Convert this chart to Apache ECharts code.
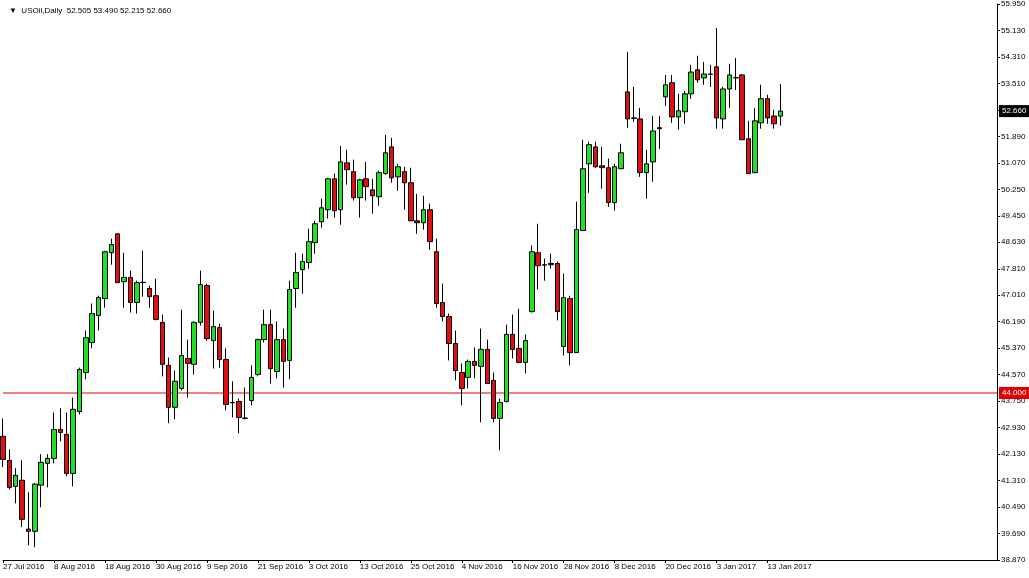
<!DOCTYPE html>
<html><head><meta charset="utf-8">
<script src="https://cdn.jsdelivr.net/npm/echarts@6/dist/echarts.min.js"></script>
<style>html,body{margin:0;padding:0;background:#fff}#c{width:1029px;height:578px}</style>
</head><body><div id="c"></div>
<script>
// OHLC as [open, close, low, high]
const ohlc = [
[42.67,41.96,41.72,43.22],[41.93,41.10,41.04,42.27],[41.13,41.47,40.61,41.69],[41.32,40.12,39.88,41.93],
[39.82,39.75,39.32,40.95],[39.75,41.20,39.26,41.23],[41.17,41.87,40.49,42.12],[41.84,41.99,41.10,42.12],
[41.99,42.88,41.84,43.40],[42.88,42.79,42.51,43.53],[42.73,41.53,41.44,43.40],[41.53,43.50,41.13,43.86],
[43.43,44.72,43.34,44.78],[44.63,45.70,44.42,45.92],[45.55,46.44,45.37,46.75],[46.38,46.93,45.92,46.99],
[46.90,48.34,46.62,48.37],[48.31,48.56,47.94,48.74],[48.89,47.39,47.39,48.89],[47.42,47.55,46.62,48.31],
[47.55,46.78,46.47,47.76],[46.78,47.39,46.44,47.45],[47.39,47.40,46.96,48.37],[47.21,46.96,46.62,47.30],
[46.99,46.26,46.23,47.51],[46.17,44.88,44.51,46.41],[44.85,43.56,43.07,45.09],[43.56,44.36,43.19,44.69],
[44.14,45.15,44.08,46.56],[45.06,44.91,43.86,45.64],[44.88,46.17,44.57,46.20],[46.17,47.33,46.07,47.76],
[47.30,45.67,45.61,47.36],[45.61,46.04,44.75,46.53],[46.01,45.03,44.78,46.13],[45.03,43.65,43.47,45.37],
[43.71,43.70,43.25,44.36],[43.74,43.25,42.76,43.83],[43.22,43.23,43.19,44.17],[43.77,44.48,43.62,44.85],
[44.57,45.64,44.51,45.67],[45.64,46.10,45.55,46.56],[46.10,44.75,44.29,46.56],[44.66,45.64,44.45,46.20],
[45.64,44.97,44.17,45.98],[45.00,47.18,44.42,47.45],[47.21,47.70,46.62,48.31],[47.79,48.04,47.05,48.28],
[48.01,48.65,47.82,49.05],[48.62,49.20,48.28,49.29],[49.26,49.69,49.08,49.97],[49.63,50.58,49.36,50.61],
[50.58,49.60,49.39,50.74],[49.63,51.10,49.17,51.59],[51.07,50.86,50.40,51.47],[50.80,50.00,49.91,51.17],
[50.00,50.55,49.39,50.58],[50.58,50.34,49.91,51.10],[50.24,50.06,49.51,50.58],[50.03,50.77,49.75,50.83],
[50.74,51.38,50.70,51.93],[51.56,50.61,50.46,51.84],[50.64,50.95,50.21,51.04],[50.80,50.46,49.63,50.95],
[50.46,49.29,49.29,50.92],[49.29,49.23,48.89,50.12],[49.23,49.63,49.02,50.06],[49.63,48.65,48.40,49.82],
[48.34,46.75,46.62,48.74],[46.78,46.35,46.20,47.36],[46.35,45.52,45.00,46.44],[45.52,44.69,44.39,45.92],
[44.63,44.14,43.62,44.91],[44.48,44.97,44.14,45.03],[44.97,44.85,44.45,45.40],[44.82,45.34,43.10,45.98],
[45.34,44.29,44.29,45.64],[44.39,43.22,43.10,44.63],[43.22,43.71,42.24,43.83],[43.74,45.80,43.71,46.10],
[45.80,45.34,45.06,46.41],[45.37,44.94,44.91,46.59],[44.94,45.61,44.60,45.80],[46.50,48.34,46.47,48.53],
[48.31,47.91,47.18,49.20],[47.94,47.93,47.45,48.13],[47.98,47.94,47.82,48.28],[47.98,46.50,46.23,48.04],
[45.43,46.93,45.15,47.67],[46.90,45.24,44.85,46.99],[45.24,49.02,45.24,49.88],[48.99,50.89,48.99,51.78],
[51.04,51.63,50.15,51.72],[51.56,50.95,50.92,51.72],[50.98,50.92,50.28,51.56],[50.92,49.85,49.72,51.20],
[49.85,50.95,49.60,51.04],[50.89,51.38,50.89,51.66],[53.25,52.42,52.15,54.48],[52.45,52.44,52.33,53.40],
[52.42,50.77,50.64,52.76],[50.77,51.04,49.97,51.47],[51.10,52.05,50.49,52.51],[52.15,52.12,51.50,52.51],
[53.10,53.47,52.82,53.77],[53.53,52.48,52.30,53.77],[52.48,52.67,52.09,53.19],[52.64,53.19,52.27,53.28],
[53.19,53.86,53.04,54.08],[53.93,53.62,53.53,54.36],[53.68,53.80,53.47,54.17],[53.80,53.79,53.40,54.08],
[54.02,52.45,52.12,55.21],[52.42,53.34,52.12,53.40],[53.34,53.77,52.76,54.11],[53.68,53.69,53.31,54.29],
[53.77,51.78,51.78,53.80],[51.81,50.74,50.74,52.36],[50.77,52.36,50.75,52.76],[52.30,53.04,52.12,53.47],
[53.04,52.45,52.27,53.16],[52.51,52.27,52.12,52.70],[52.505,52.66,52.215,53.49]
];
const priceTicks = ['38.870','39.690','40.490','41.310','42.130','42.930','43.750','44.570','45.370','46.190','47.010','47.810','48.630','49.450','50.250','51.070','51.890','52.690','53.510','54.310','55.130','55.950'];
const startDate = '2016-07-27';
const holidays = ['2016-12-26','2017-01-02'];
const totalSlots = 157;
const hLine = 44.0;
const lastPrice = 52.66;
const titleText = '▼  USOil,Daily  52.505 53.490 52.215 52.660';

const FONT = 'Liberation Sans';
const mon = ['Jan','Feb','Mar','Apr','May','Jun','Jul','Aug','Sep','Oct','Nov','Dec'];
const cats = [];
let d = new Date(startDate + 'T00:00:00Z');
while (cats.length < totalSlots) {
  const iso = d.toISOString().slice(0,10);
  const wd = d.getUTCDay();
  if (wd !== 0 && wd !== 6 && holidays.indexOf(iso) < 0) {
    cats.push(d.getUTCDate() + ' ' + mon[d.getUTCMonth()] + ' ' + d.getUTCFullYear());
  }
  d = new Date(d.getTime() + 86400000);
}
const hLineData = cats.map(() => hLine);
const chart = echarts.init(document.getElementById('c'));
chart.setOption({
  animation: false,
  backgroundColor: '#fff',
  title: {text: titleText, left: 4, top: 2, textStyle: {fontFamily: FONT, fontSize: 8, fontWeight: 'normal', color: '#000'}},
  grid: {left: 0, right: 32, top: 3, bottom: 18},
  xAxis: {type: 'category', data: cats, boundaryGap: false,
    axisLine: {lineStyle: {color: '#000'}},
    axisTick: {show: true, interval: (i) => i % 8 === 0 && i <= 120, length: 3, lineStyle: {color: '#000'}},
    axisLabel: {interval: (i) => i % 8 === 0 && i <= 120, align: 'left', margin: 3, fontFamily: FONT, fontSize: 8, color: '#000'},
    splitLine: {show: false}},
  yAxis: [
    {type: 'value', min: 38.87, max: 55.95, position: 'right', axisLabel: {show: false}, axisLine: {show: false}, axisTick: {show: false}, splitLine: {show: false}},
    {type: 'category', data: priceTicks, boundaryGap: false, position: 'right',
      axisLine: {show: true, lineStyle: {color: '#000'}},
      axisTick: {show: true, length: 3, lineStyle: {color: '#000'}},
      axisLabel: {margin: 4, fontFamily: FONT, fontSize: 8, color: '#000'}}
  ],
  series: [{
    type: 'line', yAxisIndex: 0, data: hLineData, silent: true, symbol: 'none', z: 1,
    color: '#e00000', lineStyle: {color: '#e00000', width: 1}
  }, {
    type: 'candlestick', yAxisIndex: 0, data: ohlc, barWidth: 5, z: 3,
    itemStyle: {color: '#22e022', color0: '#e01010', borderColor: '#000', borderColor0: '#000', borderWidth: 1},
    markLine: {symbol: 'none', silent: true, animation: false,
      data: [
      {yAxis: hLine, lineStyle: {color: 'rgba(0,0,0,0)', width: 0},
        label: {position: 'end', formatter: hLine.toFixed(3), backgroundColor: '#e00000', color: '#fff', fontFamily: FONT, fontSize: 8, padding: [2,3], distance: 2}},
      {yAxis: lastPrice, lineStyle: {color: 'rgba(0,0,0,0)', width: 0},
        label: {show: true, position: 'end', formatter: lastPrice.toFixed(3), backgroundColor: '#000', color: '#fff', fontFamily: FONT, fontSize: 8, padding: [2,3], distance: 2}}
    ]}
  }]
});
</script></body></html>
